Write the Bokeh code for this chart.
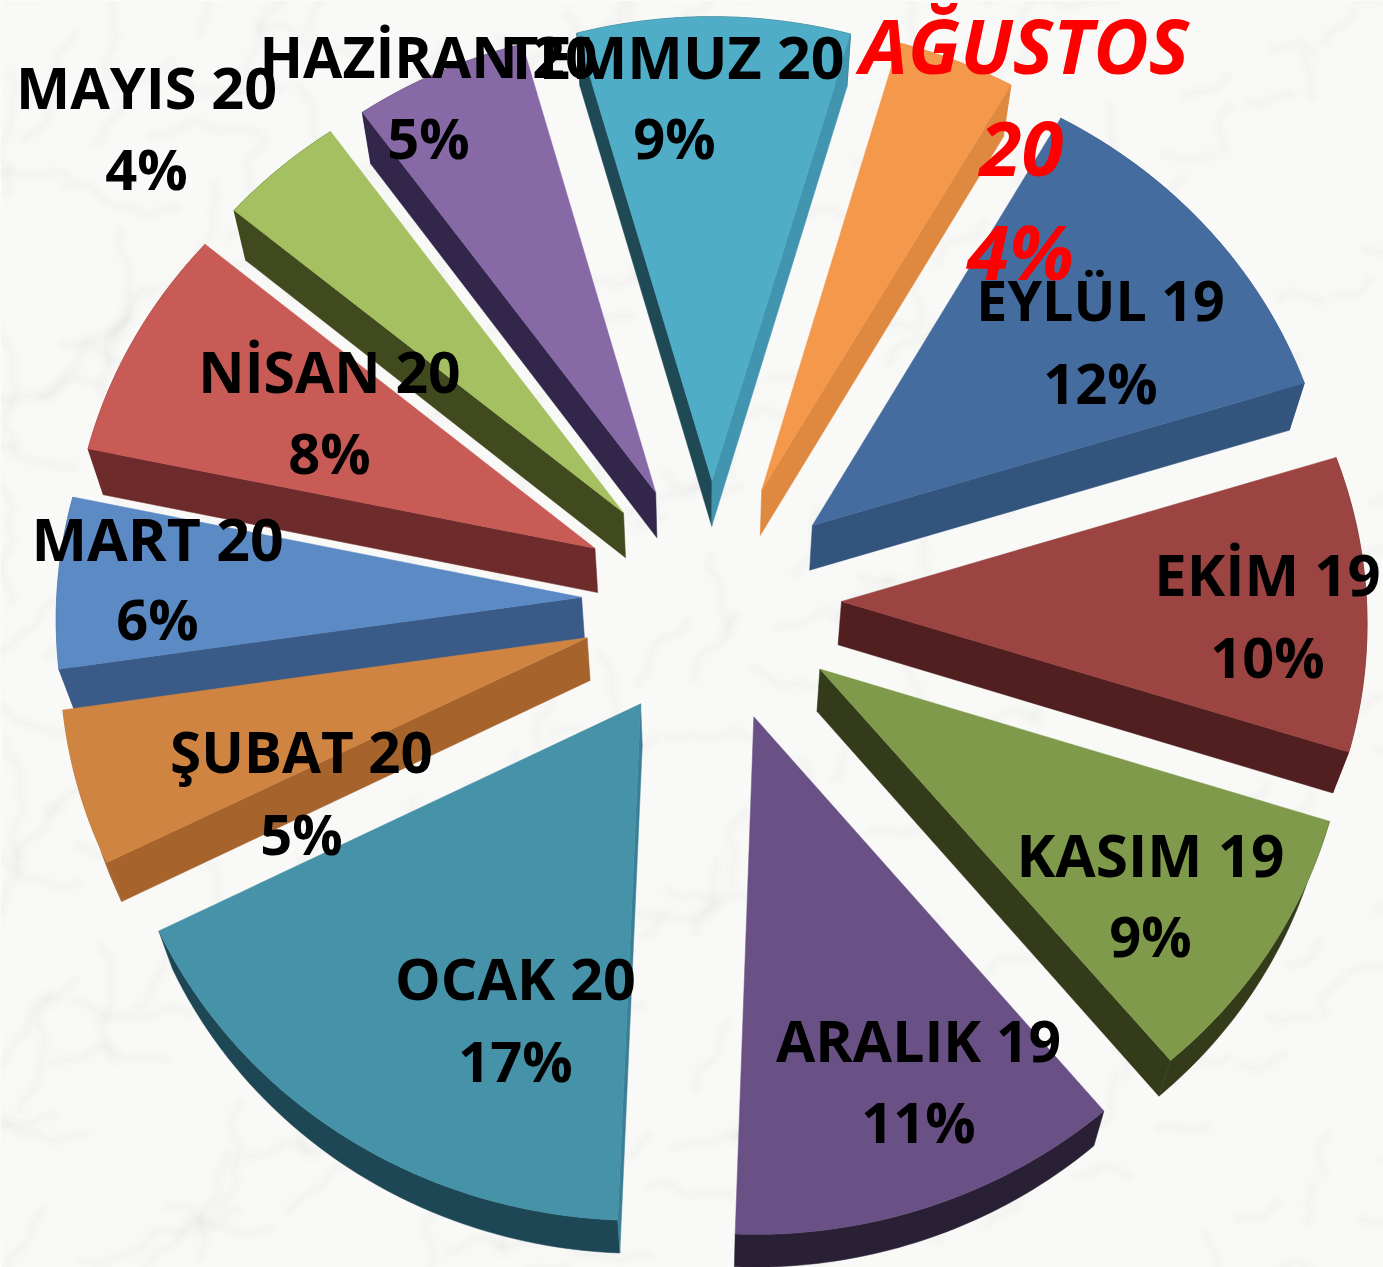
import numpy as np
from bokeh.plotting import figure
from bokeh.models import Range1d
from bokeh.core.properties import value
from bokeh.embed import file_html
from bokeh.resources import INLINE

months = ["EYLÜL 19", "EKİM 19", "KASIM 19", "ARALIK 19", "OCAK 20", "ŞUBAT 20",
          "MART 20", "NİSAN 20", "MAYIS 20", "HAZİRAN 20", "TEMMUZ 20", "AĞUSTOS 20"]
shares = [11.92, 9.72, 9.03, 11.64, 17.0, 5.08, 5.64, 7.75, 4.03, 5.58, 8.78, 3.83]
percent_labels = ["12%", "10%", "9%", "11%", "17%", "5%", "6%", "8%", "4%", "5%", "9%", "4%"]

# ---- styles ----
top_colors = ["#446c9e", "#9c4441", "#7f9a4a", "#6a5185", "#4592a9", "#d08442",
              "#5b8ac4", "#c95b57", "#a4c060", "#8769a6", "#4fadc7", "#f4984c"]
rim_colors = ["#33557d", "#511f20", "#333b1b", "#2a2035", "#1e4755", "#a6642c",
              "#3a5b88", "#6e2b2b", "#404a1e", "#32264a", "#1f4a55", "#df883f"]
start_face = [None, None, None, None, "#3a7f95", "#a6642c",
              "#3a5b88", "#6e2b2b", "#404a1e", "#32264a", "#1f4a55", None]
end_face = ["#33557d", "#511f20", "#333b1b", None, None, None,
            None, None, None, None, "#4195ae", "#df883f"]
label_xy = [(1100, 299, 381), (1267, 573, 655), (1150, 853, 934), (918, 1039, 1120),
            (515, 977, 1059), (301, 751, 832), (157, 537, 617), (329, 370, 451),
            (146, 86, 167), (428, 55, 136), (674, 55, 136)]
name_sizes = ["55.5px", "58px", "58.5px", "57px", "57.5px", "56.5px",
              "59px", "57px", "57.5px", "57px", "59px"]
FONT = "Open Sans"
PCT_FS = "56px"
BG = "#f9f9f8"

# ---- pie geometry ----
START, CX, CY, R, EXPL, TILT, PERSP = 29.8, 711.0, 600.5, 525.0, 130.0, 0.933, 0.00007


def top_pt(t_deg, r, mid_deg):
    t, m = np.radians(t_deg), np.radians(mid_deg)
    X = r * np.sin(t) + EXPL * np.sin(m)
    Y = r * np.cos(t) + EXPL * np.cos(m)
    q = 1.0 / (1.0 + PERSP * Y)
    return CX + X * q, CY - Y * TILT * q


def lower(xs, ys):
    xs, ys = np.asarray(xs), np.asarray(ys)
    return 703 + (xs - 703) * 0.975, ys + 53.5 - 0.0168 * ys


p = figure(width=1383, height=1267, x_range=Range1d(0, 1383), y_range=Range1d(1267, 0),
           output_backend="svg", toolbar_location=None, min_border=0)
p.axis.visible = False
p.grid.visible = False
p.outline_line_color = None
p.background_fill_color = BG

# marble veins: a deterministic decoration (golden-ratio spread of short soft strokes)
GOLD, PLASTIC = 0.618034, 0.754878
vx, vy = [], []
for k in range(300):
    sx = (k * GOLD) % 1 * 1500 - 60
    sy = (k * PLASTIC) % 1 * 1380 - 60
    ang = np.radians(-40 + 55 * np.sin(k * 1.7))
    length = 30 + 90 * ((k * 0.381966) % 1)
    s = np.linspace(0, length, 12)
    wob = 6 * np.sin(s / 17 + k) + 3 * np.sin(s / 7 + 2 * k)
    vx.append(list(sx + s * np.cos(ang) - wob * np.sin(ang)))
    vy.append(list(sy + s * np.sin(ang) + wob * np.cos(ang)))
for w, a in ((24, 0.012), (12, 0.018), (5, 0.02)):
    p.multi_line(vx, vy, line_color="#8e8e86", line_width=w, line_alpha=a, line_cap="round")

# ---- slices ----
edges = START + np.concatenate([[0], np.cumsum(shares)]) * 3.6
order = sorted(range(len(shares)), key=lambda i: top_pt(0, 0, (edges[i] + edges[i + 1]) / 2)[1])
fx, fy, fc = [], [], []
tx, ty, tc = [], [], []
for i in order:
    a0, a1 = edges[i], edges[i + 1]
    mid = (a0 + a1) / 2
    arc = np.linspace(a0, a1, 48)
    ax, ay = top_pt(arc, R, mid)
    bx, by = lower(ax, ay)
    ox, oy = top_pt(0, 0, mid)
    lx, ly = lower(ox, oy)
    fx.append(list(ax) + list(bx[::-1]))
    fy.append(list(ay) + list(by[::-1]))
    fc.append(rim_colors[i])
    if start_face[i]:
        fx.append([ox, ax[0], bx[0], lx]); fy.append([oy, ay[0], by[0], ly]); fc.append(start_face[i])
    if end_face[i]:
        fx.append([ox, ax[-1], bx[-1], lx]); fy.append([oy, ay[-1], by[-1], ly]); fc.append(end_face[i])
    tx.append(list(ax) + [ox]); ty.append(list(ay) + [oy]); tc.append(top_colors[i])

p.patches(fx, fy, fill_color=fc, line_color=fc, line_width=0.5)
p.patches(tx, ty, fill_color=tc, line_color=tc, line_width=0.5)

# ---- labels ----
names = months[:-1]
pct = percent_labels[:-1]
lx = [q[0] for q in label_xy]
ly1 = [q[1] for q in label_xy]
ly2 = [q[2] for q in label_xy]
p.text(lx, ly1, text=names, text_font=value(FONT), text_font_style="bold", text_font_size=name_sizes,
       text_color="#000000", text_align="center", text_baseline="alphabetic")
p.text(lx, ly2, text=pct, text_font=value(FONT), text_font_style="bold", text_font_size=value(PCT_FS),
       text_color="#000000", text_align="center", text_baseline="alphabetic")

ag_name, ag_year = months[-1].split(" ")
p.text([1024, 1021, 1020], [44, 148, 250], text=[ag_name, ag_year, percent_labels[-1]],
       text_font=value(FONT), text_font_style="bold italic", text_font_size="76px",
       text_color="#ff0000", text_align="center", text_baseline="alphabetic")

open("out.html", "w").write(file_html(p, INLINE))
